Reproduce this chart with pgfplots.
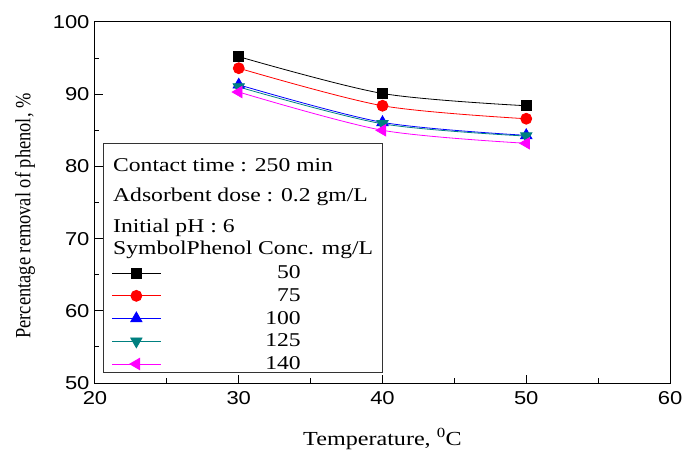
\documentclass[border=0pt]{standalone}
\usepackage{fontspec}
\usepackage{graphicx}
\usepackage{pgfplots}
\pgfplotsset{compat=1.18}
\setmainfont{Liberation Serif}[FakeStretch=1.21]
\newfontfamily\tickfont{Liberation Sans}[FakeStretch=1.18]
\newfontfamily\ylabfont{Liberation Serif}
\definecolor{tealc}{RGB}{0,128,128}
\definecolor{magc}{RGB}{255,0,255}
\definecolor{bluec}{RGB}{0,0,255}
\definecolor{redc}{RGB}{255,0,0}
\begin{document}
\begin{tikzpicture}
\begin{axis}[
  scale only axis, width=575bp, height=361bp,
  xmin=20, xmax=60, ymin=50, ymax=100,
  xtick={20,30,...,60}, ytick={50,60,...,100},
  minor x tick num=1, minor y tick num=1,
  tick pos=left, tick align=inside,
  major tick length=8bp, minor tick length=4.5bp,
  axis line style={line width=1bp},
  every tick/.style={line width=1bp, black},
  /pgf/number format/assume math mode=true,
  ticklabel style={font=\tickfont\fontsize{18.7}{20}\selectfont},
  xticklabel style={yshift=-5bp},
  yticklabel style={xshift=-2bp},
  xlabel={Temperature, \textsuperscript{0}C},
  xlabel style={font=\fontsize{20}{22}\selectfont, at={(rel axis cs:0.5,0)}, anchor=base, yshift=-62bp},
  ylabel={\scalebox{1}[1.18]{\ylabfont\fontsize{18.5}{20}\selectfont Percentage removal of phenol, \%}},
  ylabel style={at={(rel axis cs:-0.1217,0.4626)}, anchor=center},
  legend style={at={(axis cs:21.18,66.49)}, anchor=north west, draw=none, fill=none,
    inner sep=0pt, outer sep=0pt, row sep=4.3bp, column sep=0bp,
    font=\fontsize{19.6}{22}\selectfont},
  legend image code/.code={\draw[mark repeat=2,mark phase=2,#1] plot coordinates {(0bp,0bp) (24bp,0bp) (48bp,0bp)};},
  every axis plot/.append style={line width=0.8bp},
]
\coordinate (O) at (rel axis cs:0,0);
\coordinate (T) at (rel axis cs:1,1);
\draw[line width=0.9bp, black!80] (axis cs:20.56,51.4) rectangle (axis cs:40,83.24);
\node[anchor=base west, font=\fontsize{19.6}{22}\selectfont, inner sep=0pt] at (axis cs:21.25,79.27) {Contact time : 250 min};
\node[anchor=base west, font=\fontsize{19.6}{22}\selectfont, inner sep=0pt] at (axis cs:21.25,75.07) {Adsorbent dose : 0.2 gm/L};
\node[anchor=base west, font=\fontsize{19.6}{22}\selectfont, inner sep=0pt] at (axis cs:21.25,70.82) {Initial pH : 6};
\node[anchor=base west, font=\fontsize{19.6}{22}\selectfont, inner sep=0pt] at (axis cs:21.25,67.73) {SymbolPhenol Conc. mg/L};

\addplot[black, smooth, mark=square*, mark size=5bp, mark options={solid, fill=black}]
  coordinates {(30,95.2) (40,90.1) (50,88.4)};
\addlegendentry{\makebox[138bp][r]{50}}
\addplot[redc, smooth, mark=*, mark size=5.5bp, mark options={solid, fill=redc}]
  coordinates {(30,93.6) (40,88.4) (50,86.6)};
\addlegendentry{\makebox[138bp][r]{75}}
\addplot[bluec, smooth, mark=triangle*, mark size=6.5bp, mark options={solid, fill=bluec}]
  coordinates {(30,91.3) (40,86.1) (50,84.3)};
\addlegendentry{\makebox[138bp][r]{100}}
\addplot[tealc, smooth, mark=triangle*, mark size=6.5bp, mark options={solid, fill=tealc, rotate=180}]
  coordinates {(30,91.0) (40,85.9) (50,84.2)};
\addlegendentry{\makebox[138bp][r]{125}}
\addplot[magc, smooth, mark=triangle*, mark size=6.5bp, mark options={solid, fill=magc, rotate=90}]
  coordinates {(30,90.3) (40,85.0) (50,83.2)};
\addlegendentry{\makebox[138bp][r]{140}}
\end{axis}
\pgfresetboundingbox
\path ([shift={(-95bp,-67bp)}]O) rectangle ([shift={(12bp,22bp)}]T);
\end{tikzpicture}
\end{document}
